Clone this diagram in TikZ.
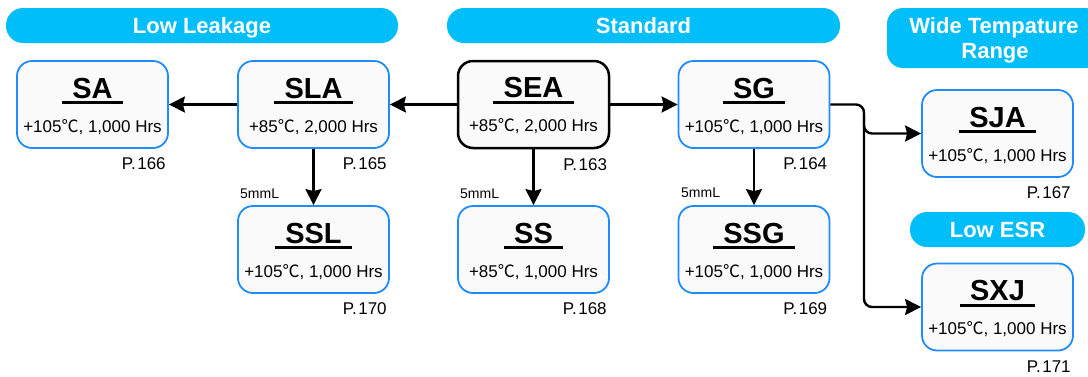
\documentclass[tikz,border=0pt]{standalone}
\usepackage{fontspec}
\setmainfont{Liberation Sans}
\newfontfamily\cjk{Noto Sans CJK JP}
\usetikzlibrary{arrows.meta}
\definecolor{bannercol}{RGB}{0,190,250}
\definecolor{boxblue}{RGB}{30,140,255}
\definecolor{boxfill}{RGB}{250,250,250}
\tikzset{
  banner/.style={fill=bannercol, draw=none, rounded corners=17pt, text=white,
    font=\bfseries\fontsize{22}{25}\selectfont, align=center, inner sep=0pt},
  bline/.style={text height=16pt, text depth=0pt},
  pbox/.style={draw=boxblue, line width=1.8pt, fill=boxfill, rounded corners=15pt,
    minimum width=151pt, minimum height=87pt, inner sep=0pt},
  pboxk/.style={pbox, draw=black, line width=2.5pt},
  ttl/.style={font=\bfseries\fontsize{29}{30}\selectfont, inner sep=0pt},
  sub/.style={font=\fontsize{17}{18}\selectfont, inner sep=0pt},
  pg/.style={font=\fontsize{17}{18}\selectfont, inner sep=0pt},
  mm/.style={font=\fontsize{14}{14}\selectfont, inner sep=0pt, anchor=west},
  ulline/.style={line width=3pt},
  arr/.style={line width=2.4pt, -{Stealth[length=16pt,width=16pt,inset=2pt]}},
}
\newcommand\prodbox[7]{%
  \node[#1] (#2) at (#3) {};
  \node[ttl, anchor=base] (#2-t) at ([yshift=-38pt]#2.north) {#4};
  \draw[ulline] ([xshift=-10pt,yshift=-4.5pt]#2-t.base west) -- ([xshift=10pt,yshift=-4.5pt]#2-t.base east);
  \node[sub, anchor=base] (#2-s) at ([yshift=-72pt]#2.north) {#5};
  \node[pg, anchor=base east] (#2-p) at ([xshift=-3pt,yshift=-21pt]#2.south east) {#6};
}
\newcommand\degc{{\cjk ℃}}
\begin{document}
\begin{tikzpicture}[x=1pt,y=-1pt]
\useasboundingbox (0,0) rectangle (1088,376);
\clip (0,0) rectangle (1088,376);
% banners
\node[banner, minimum width=392pt, minimum height=35pt] (bLL) at (202,25.5) {};
\node[banner, bline, anchor=base] (bLLt) at ([yshift=-8pt]bLL.center) {Low Leakage};
\node[banner, minimum width=393pt, minimum height=35pt] (bST) at (643.5,25.5) {};
\node[banner, bline, anchor=base] (bSTt) at ([yshift=-8pt]bST.center) {Standard};
\node[banner, minimum width=214pt, minimum height=60pt, rounded corners=16pt] (bWT) at (994,38) {};
\node[banner, bline, anchor=base] (bWTt1) at (994,33) {Wide Tempature};
\node[banner, bline, anchor=base] (bWTt2) at (995,58) {Range};
\node[banner, minimum width=175pt, minimum height=35pt] (bLE) at (997.5,229.5) {};
\node[banner, bline, anchor=base] (bLEt) at ([yshift=-8pt]bLE.center) {Low ESR};
% boxes
\prodbox{pbox}{SA}{92.5,104.5}{SA}{+105\degc, 1,000 Hrs}{P.\hspace{1.5pt}166}{}
\prodbox{pbox}{SLA}{313.5,104.5}{SLA}{+85\degc, 2,000 Hrs}{P.\hspace{1.5pt}165}{}
\prodbox{pboxk}{SEA}{533.5,104.5}{SEA}{+85\degc, 2,000 Hrs}{P.\hspace{1.5pt}163}{}
\prodbox{pbox}{SG}{754,104.5}{SG}{+105\degc, 1,000 Hrs}{P.\hspace{1.5pt}164}{}
\prodbox{pbox}{SSL}{313.5,249.5}{SSL}{+105\degc, 1,000 Hrs}{P.\hspace{1.5pt}170}{}
\prodbox{pbox}{SS}{533.5,249.5}{SS}{+85\degc, 1,000 Hrs}{P.\hspace{1.5pt}168}{}
\prodbox{pbox}{SSG}{754,249.5}{SSG}{+105\degc, 1,000 Hrs}{P.\hspace{1.5pt}169}{}
\prodbox{pbox}{SJA}{997.5,133.5}{SJA}{+105\degc, 1,000 Hrs}{P.\hspace{1.5pt}167}{}
\prodbox{pbox}{SXJ}{997.5,307}{SXJ}{+105\degc, 1,000 Hrs}{P.\hspace{1.5pt}171}{}
% 5mmL labels
\node[mm] (m1) at (240,194) {5mmL};
\node[mm] (m2) at (460,194) {5mmL};
\node[mm] (m3) at (681,193) {5mmL};
% connectors
\draw[arr] (SLA.west) -- (SA.east);
\draw[arr] (SEA.west) -- (SLA.east);
\draw[arr] (SEA.east) -- (SG.west);
\draw[arr] (SLA.south) -- (SSL.north);
\draw[arr] (SEA.south) -- (SS.north);
\draw[arr] (SG.south) -- (SSG.north);
\coordinate (jx) at (864,0);
\coordinate (jy) at (0,114);
\draw[arr, rounded corners=8pt] (SG.east) -- (SG.east -| jx) -- (SJA.west -| jx) -- (SJA.west);
\draw[arr, rounded corners=8pt] (jx |- jy) -- (SXJ.west -| jx) -- (SXJ.west);
\end{tikzpicture}
\end{document}
